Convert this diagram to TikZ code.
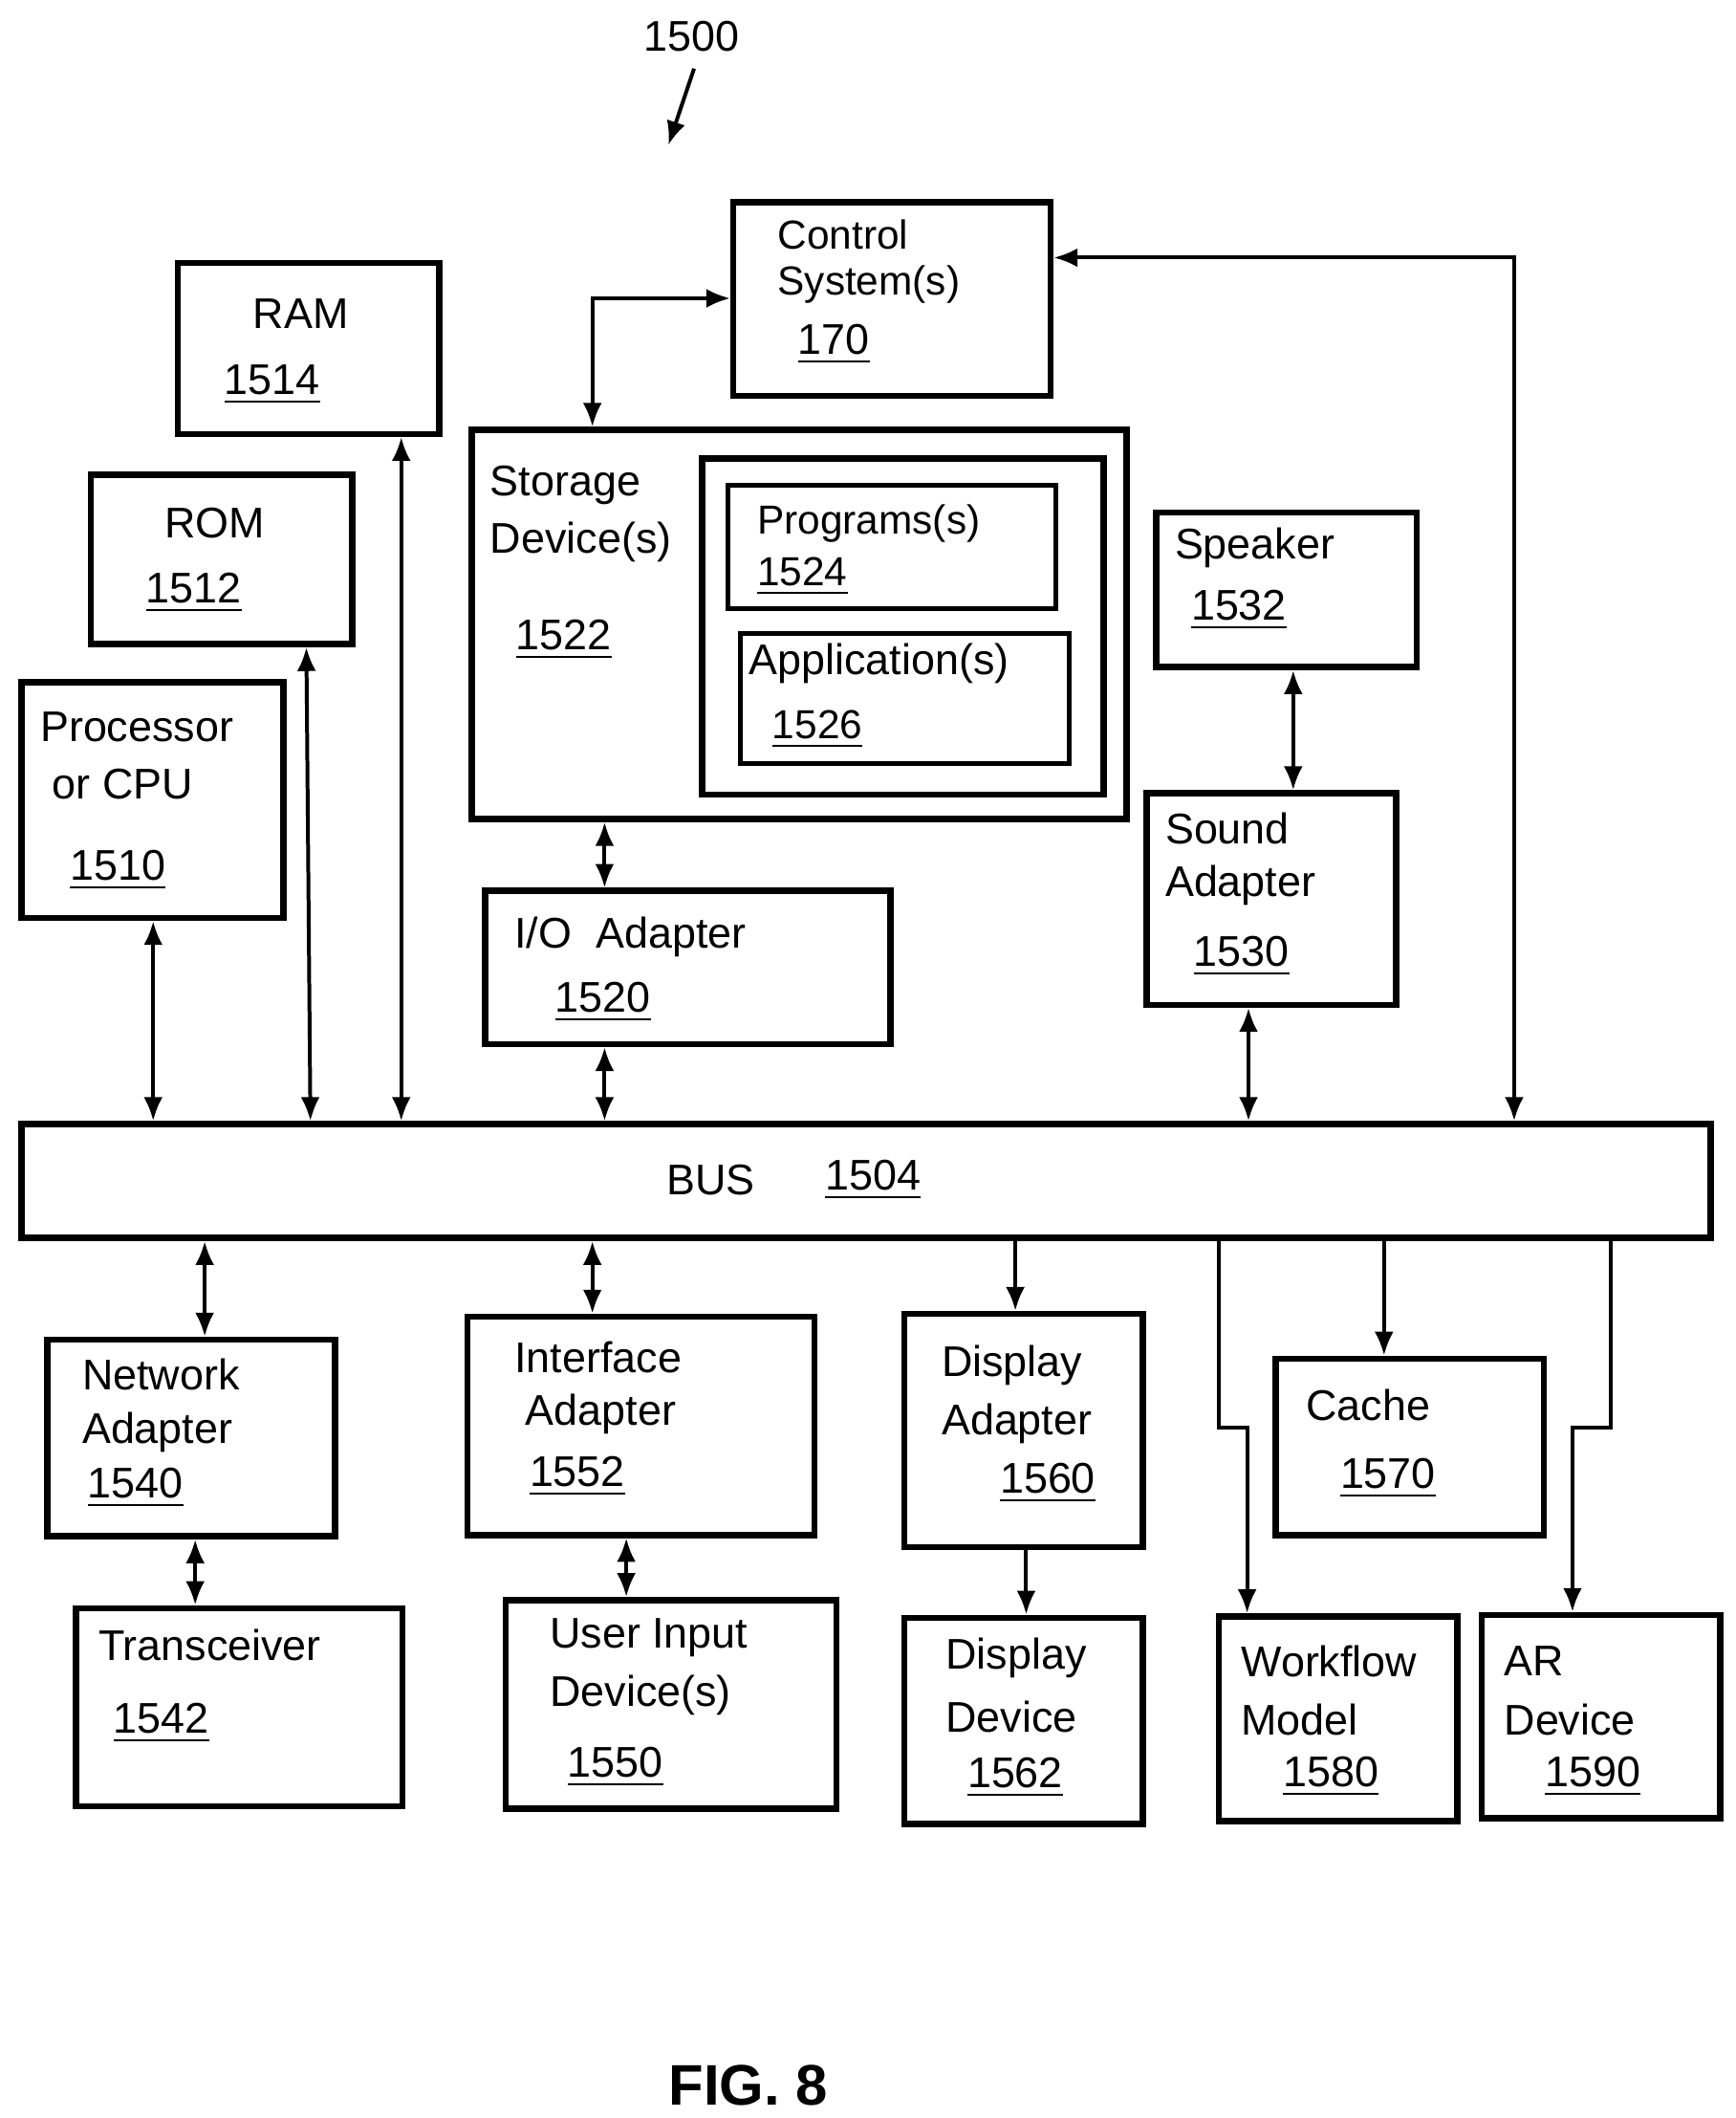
\documentclass[tikz,border=0pt]{standalone}
\usepackage{fontspec}
\setmainfont{Liberation Sans}
\usetikzlibrary{fit,arrows.meta}
\tikzset{
  box/.style={draw, line width=1.3pt, inner sep=0pt},
  thinbox/.style={draw, line width=1pt, inner sep=0pt},
  lbl/.style={anchor=west, inner sep=0pt, font=\fontsize{9}{11}\selectfont},
  link/.style={line width=0.8pt, {Latex[length=5pt,width=4pt]}-{Latex[length=5pt,width=4pt]}},
  one/.style={line width=0.8pt, -{Latex[length=5pt,width=4pt]}}
}
\newcommand\bx[6][box]{\node[#1, fit={(#3,#4)(#5,#6)}] (#2) {};}
\newcommand\num[1]{\underline{#1}}
\begin{document}
\begin{tikzpicture}[x=0.01cm, y=-0.01cm]
\useasboundingbox (0,0) rectangle (1280,1562);
% boxes
\bx{ctrl}{541}{149}{775}{292}
\bx{ram}{131}{194}{324}{320}
\bx{rom}{67}{350}{260}{475}
\bx{cpu}{16}{503}{209}{677}
\bx{stor}{348}{317}{831}{604}
\bx{inner}{518}{338}{814}{586}
\bx[thinbox]{prog}{537}{358}{779}{449}
\bx[thinbox]{appl}{546}{467}{789}{563}
\bx{spk}{853}{378}{1045}{492}
\bx{snd}{846}{585}{1030}{741}
\bx{io}{358}{657}{657}{770}
\bx{bus}{16}{829}{1262}{913}
\bx{net}{35}{988}{247}{1133}
\bx{trx}{56}{1186}{297}{1332}
\bx{intf}{345}{971}{601}{1132}
\bx{uid}{373}{1180}{617}{1334}
\bx{dad}{667}{969}{843}{1141}
\bx{ddv}{667}{1193}{843}{1345}
\bx{cache}{941}{1002}{1139}{1132}
\bx{wfm}{899}{1192}{1075}{1343}
\bx{ar}{1093}{1191}{1269}{1341}
% labels
\node[lbl, font=\fontsize{8.5}{10}\selectfont] (t1) at (573,173) {Control};
\node[lbl, font=\fontsize{8.5}{10}\selectfont] (t2) at (573,210) {System(s)};
\node[lbl] (t3) at (588,254) {\num{170}};
\node[lbl] (t4) at (186,231) {RAM};
\node[lbl] (t5) at (165,284) {\num{1514}};
\node[lbl] (t6) at (121,386) {ROM};
\node[lbl] (t7) at (107,437) {\num{1512}};
\node[lbl] (t8) at (29,536) {Processor};
\node[lbl] (t9) at (38,578) {or CPU};
\node[lbl] (t10) at (51,642) {\num{1510}};
\node[lbl] (t11) at (361,358) {Storage};
\node[lbl] (t12) at (361,400) {Device(s)};
\node[lbl] (t13) at (380,472) {\num{1522}};
\node[lbl, font=\fontsize{8.5}{10}\selectfont] (t14) at (558,386) {Programs(s)};
\node[lbl, font=\fontsize{8.5}{10}\selectfont] (t15) at (558,425) {\num{1524}};
\node[lbl] (t16) at (552,489) {Application(s)};
\node[lbl, font=\fontsize{8.5}{10}\selectfont] (t17) at (569,538) {\num{1526}};
\node[lbl] (t18) at (866,404) {Speaker};
\node[lbl] (t19) at (878,450) {\num{1532}};
\node[lbl] (t20) at (859,611) {Sound};
\node[lbl] (t21) at (859,653) {Adapter};
\node[lbl] (t22) at (880,705) {\num{1530}};
\node[lbl] (t23) at (379,691) {I/O\ \ Adapter};
\node[lbl] (t24) at (409,739) {\num{1520}};
\node[lbl] (t25) at (491,870) {BUS};
\node[lbl] (t26) at (608,870) {\num{1504}};
\node[lbl] (t27) at (60,1014) {Network};
\node[lbl] (t28) at (60,1056) {Adapter};
\node[lbl] (t29) at (64,1097) {\num{1540}};
\node[lbl] (t30) at (72,1213) {Transceiver};
\node[lbl] (t31) at (83,1271) {\num{1542}};
\node[lbl] (t32) at (379,1001) {Interface};
\node[lbl] (t33) at (387,1043) {Adapter};
\node[lbl] (t34) at (390,1089) {\num{1552}};
\node[lbl] (t35) at (405,1208) {User Input};
\node[lbl] (t36) at (405,1250) {Device(s)};
\node[lbl] (t37) at (418,1303) {\num{1550}};
\node[lbl] (t38) at (694,1007) {Display};
\node[lbl] (t39) at (694,1050) {Adapter};
\node[lbl] (t40) at (737,1094) {\num{1560}};
\node[lbl] (t41) at (697,1223) {Display};
\node[lbl] (t42) at (697,1266) {Device};
\node[lbl] (t43) at (713,1311) {\num{1562}};
\node[lbl] (t44) at (963,1036) {Cache};
\node[lbl] (t45) at (988,1090) {\num{1570}};
\node[lbl] (t46) at (915,1225) {Workflow};
\node[lbl] (t47) at (915,1268) {Model};
\node[lbl] (t48) at (946,1310) {\num{1580}};
\node[lbl] (t49) at (1109,1225) {AR};
\node[lbl] (t50) at (1109,1268) {Device};
\node[lbl] (t51) at (1139,1310) {\num{1590}};
\node[font=\fontsize{9}{11}\selectfont] (fig) at (510,27) {1500};
\coordinate (figtip) at (493,107);
\draw[one] (fig.south) ++(2,0) -- (figtip);
\node[font=\bfseries\fontsize{12}{14}\selectfont] (cap) at (552,1538) {FIG. 8};
% connectors above the bus
\draw[link] (cpu.south -| 113,0) -- (bus.north -| 113,0);
\draw[link] (rom.south -| 226,0) -- (bus.north -| 229,0);
\draw[link] (ram.south -| 296,0) -- (bus.north -| 296,0);
\draw[link] (stor.south -| 446,0) -- (io.north -| 446,0);
\draw[link] (io.south -| 446,0) -- (bus.north -| 446,0);
\draw[link] (snd.south -| 921,0) -- (bus.north -| 921,0);
\draw[link] (spk.south -| 954,0) -- (snd.north -| 954,0);
\draw[link] (stor.north -| 437,0) -- (437,220) -- (ctrl.west |- 0,220);
\draw[link] (ctrl.east |- 0,190) -- (1117,190) -- (bus.north -| 1117,0);
% connectors below the bus
\draw[link] (bus.south -| 151,0) -- (net.north -| 151,0);
\draw[link] (net.south -| 144,0) -- (trx.north -| 144,0);
\draw[link] (bus.south -| 437,0) -- (intf.north -| 437,0);
\draw[link] (intf.south -| 462,0) -- (uid.north -| 462,0);
\draw[one] (bus.south -| 749,0) -- (dad.north -| 749,0);
\draw[one] (dad.south -| 757,0) -- (ddv.north -| 757,0);
\draw[one] (bus.south -| 1021,0) -- (cache.north -| 1021,0);
\draw[one] (bus.south -| 899,0) -- (899,1053) -- (920,1053) -- (wfm.north -| 920,0);
\draw[one] (bus.south -| 1188,0) -- (1188,1053) -- (1160,1053) -- (ar.north -| 1160,0);
\end{tikzpicture}
\end{document}
